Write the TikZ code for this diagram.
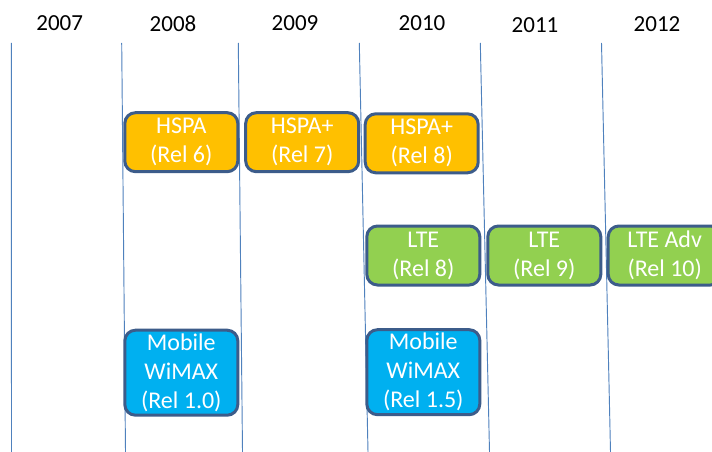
\documentclass[tikz,border=0pt]{standalone}
\usepackage{fontspec}
\setmainfont{Carlito}
\definecolor{gridline}{RGB}{79,129,189}
\definecolor{boxedge}{RGB}{60,92,138}
\definecolor{hspafill}{RGB}{255,192,0}
\definecolor{ltefill}{RGB}{146,208,80}
\definecolor{wimaxfill}{RGB}{0,176,240}
\tikzset{
  year/.style={anchor=base, font=\fontsize{17.25pt}{20pt}\selectfont, text=black, inner sep=0pt},
  yearline/.style={draw=gridline, line width=0.7pt},
  relbox/.style={draw=boxedge, line width=2.25pt, rounded corners=8pt,
    minimum width=113*0.75pt, text=white, align=center, inner sep=0pt,
    font=\fontsize{18pt}{21.75pt}\selectfont},
  shortbox/.style={relbox, minimum height=59*0.75pt},
  tallbox/.style={relbox, minimum height=85*0.75pt},
}
\begin{document}
\begin{tikzpicture}[x=0.75pt, y=-0.75pt]
  \clip (0,0) rectangle (712,452);
  \fill[white] (0,0) rectangle (712,452);

  % year columns
  \draw[yearline] (11.3,43)  -- (11.5,452);
  \draw[yearline] (121.7,43) -- (125.5,452);
  \draw[yearline] (238.3,43) -- (242.5,452);
  \draw[yearline] (359.3,43) -- (368,452);
  \draw[yearline] (480.3,43) -- (489.5,452);
  \draw[yearline] (601.5,43) -- (610.5,452);

  \node[year] (y2007) at (59.7,30.7) {2007};
  \node[year] (y2008) at (173,31.7)  {2008};
  \node[year] (y2009) at (295,30.7)  {2009};
  \node[year] (y2010) at (422,30.7)  {2010};
  \node[year] (y2011) at (535,32.3)  {2011};
  \node[year] (y2012) at (657,31.7)  {2012};

  % HSPA track
  \node[shortbox, fill=hspafill] (hspa6) at (181.3,142.2) {HSPA\\(Rel 6)};
  \node[shortbox, fill=hspafill] (hspa7) at (302.2,142.2) {HSPA+\\(Rel 7)};
  \node[shortbox, fill=hspafill] (hspa8) at (421.7,143.3) {HSPA+\\(Rel 8)};

  % LTE track
  \node[shortbox, fill=ltefill] (lte8)   at (423.3,255.5) {LTE\\(Rel 8)};
  \node[shortbox, fill=ltefill] (lte9)   at (544.3,255.5) {LTE\\(Rel 9)};
  \node[shortbox, fill=ltefill] (lteadv) at (664.7,255.5) {LTE Adv\\(Rel 10)};

  % WiMAX track
  \node[tallbox, fill=wimaxfill] (wimax10) at (181.3,372.7) {Mobile\\WiMAX\\(Rel 1.0)};
  \node[tallbox, fill=wimaxfill] (wimax15) at (423.3,372.2) {Mobile\\WiMAX\\(Rel 1.5)};
\end{tikzpicture}
\end{document}
